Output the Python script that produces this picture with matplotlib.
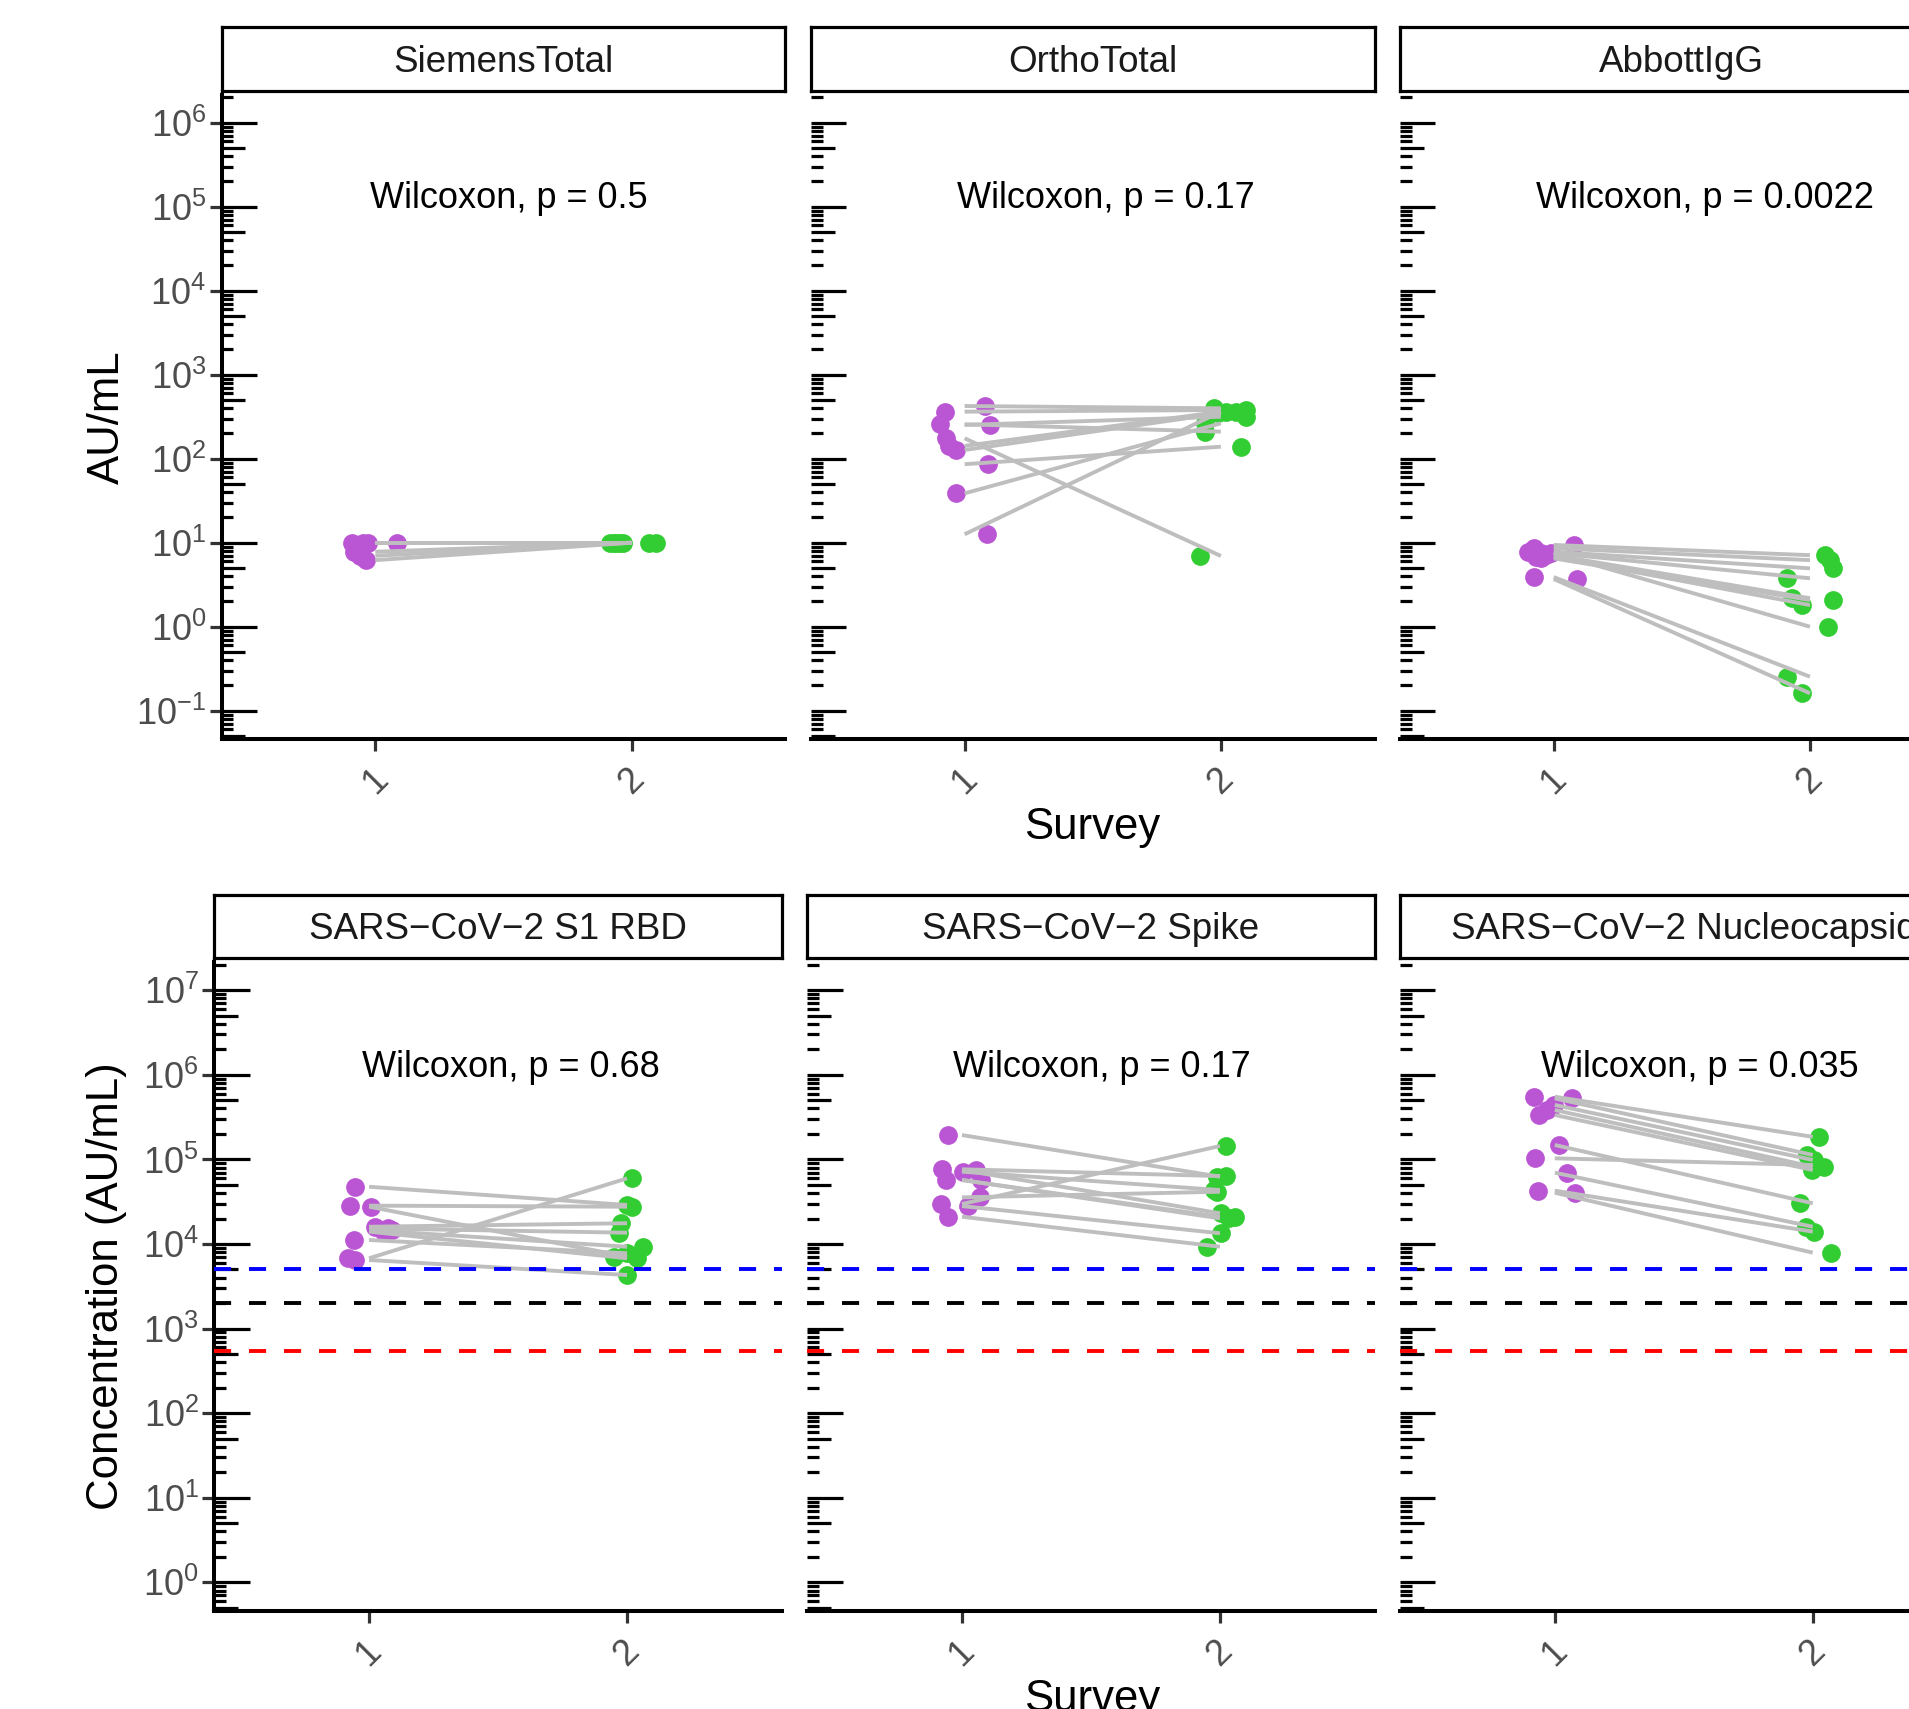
import matplotlib
matplotlib.use("Agg")
import matplotlib.pyplot as plt
import numpy as np

plt.rcParams["font.family"] = ["Liberation Sans", "DejaVu Sans"]
plt.rcParams["mathtext.fontset"] = "custom"
plt.rcParams["mathtext.rm"] = "Liberation Sans"
plt.rcParams["mathtext.it"] = "Liberation Sans:italic"
plt.rcParams["mathtext.bf"] = "Liberation Sans:bold"

# ---- data (paired survey 1 / survey 2 values) ----
panel_names = ["SiemensTotal", "OrthoTotal", "AbbottIgG",
               "SARS\u2212CoV\u22122 S1 RBD", "SARS\u2212CoV\u22122 Spike",
               "SARS\u2212CoV\u22122 Nucleocapsid"]
p_values = ["0.5", "0.17", "0.0022", "0.68", "0.17", "0.035"]

siemens_s1 = [10, 10, 10, 10, 7.8, 7.0, 6.2]
siemens_s2 = [10, 10, 10, 10, 10, 10, 10]
siemens_j1 = [-0.09, -0.05, -0.03, 0.086, -0.083, -0.06, -0.037]
siemens_j2 = [-0.083, -0.06, -0.035, 0.07, 0.095, -0.07, -0.045]

ortho_s1 = [424, 363, 257, 252, 175, 142, 127, 86, 38.7, 12.6]
ortho_s2 = [398, 380, 210, 316, 6.95, 363, 347, 139, 264, 363]
ortho_j1 = [0.08, -0.075, -0.095, 0.10, -0.072, -0.062, -0.032, 0.093, -0.032, 0.087]
ortho_j2 = [-0.025, 0.10, -0.063, 0.10, -0.083, 0.06, -0.01, 0.08, -0.06, 0.02]

abbott_s1 = [9.4, 8.6, 7.8, 7.5, 7.1, 6.8, 6.5, 7.5, 3.9, 3.7]
abbott_s2 = [7.1, 6.2, 4.95, 3.77, 2.18, 1.81, 2.08, 1.0, 0.254, 0.161]
abbott_j1 = [0.079, -0.077, -0.10, -0.05, -0.03, -0.07, -0.05, -0.012, -0.077, 0.09]
abbott_j2 = [0.06, 0.08, 0.09, -0.09, -0.07, -0.03, 0.09, 0.07, -0.09, -0.03]

rbd_s1 = [47500, 28400, 27600, 16000, 15300, 14600, 14000, 11150, 6780, 6470]
rbd_s2 = [28900, 27600, 7080, 17600, 13600, 9290, 6780, 7760, 59700, 4300]
rbd_j1 = [-0.054, -0.073, 0.008, 0.024, 0.075, 0.088, 0.056, -0.06, -0.08, -0.054]
rbd_j2 = [0.0, 0.02, -0.05, -0.025, -0.032, 0.06, 0.04, 0.0, 0.02, 0.0]

spike_s1 = [194000, 76400, 71600, 75000, 57100, 57100, 35600, 29700, 28100, 21000]
spike_s2 = [62500, 63600, 43400, 23100, 21000, 20100, 41500, 144000, 13400, 9290]
spike_j1 = [-0.054, -0.076, 0.004, 0.056, -0.06, 0.075, 0.068, -0.08, 0.023, -0.056]
spike_j2 = [-0.01, 0.023, -0.022, 0.003, 0.06, 0.036, -0.01, 0.023, 0.003, -0.05]

nucleo_s1 = [551000, 527000, 440000, 384000, 335000, 148000, 103000, 69700, 42700, 40400]
nucleo_s2 = [185000, 113000, 98500, 82000, 75000, 30300, 85900, 16000, 14000, 7900]
nucleo_j1 = [-0.081, 0.067, -0.004, -0.03, -0.062, 0.016, -0.075, 0.048, -0.066, 0.08]
nucleo_j2 = [0.023, -0.022, 0.004, 0.043, -0.003, -0.048, 0.01, -0.028, 0.004, 0.069]

thresholds = [5000, 2000, 550]
threshold_colors = ["#0000FF", "#000000", "#FF0000"]

panel_data = [
    (siemens_s1, siemens_s2, siemens_j1, siemens_j2),
    (ortho_s1, ortho_s2, ortho_j1, ortho_j2),
    (abbott_s1, abbott_s2, abbott_j1, abbott_j2),
    (rbd_s1, rbd_s2, rbd_j1, rbd_j2),
    (spike_s1, spike_s2, spike_j1, spike_j2),
    (nucleo_s1, nucleo_s2, nucleo_j1, nucleo_j2),
]

PURPLE = "#BA55D3"
GREEN = "#32CD32"
GREY = "#BEBEBE"

W, H = 1909, 1709
fig = plt.figure(figsize=(W / 100, H / 100), dpi=100)


def px_axes(left, top, width, height):
    return fig.add_axes([left / W, 1 - (top + height) / H, width / W, height / H])


rows = [
    dict(ax_top=95, ax_bot=739, strip_top=27, strip_bot=91.3,
         lefts=[221.6, 810.9, 1400], width=563.7,
         ylog=(-1.337, 6.33), decades=(-2, 6), majors=range(-1, 7),
         label_ylog=5.10, label_x=[0.98, 0.972, 0.93],
         ylabel="AU/mL", xlabel_y=828, dashed=False),
    dict(ax_top=961.8, ax_bot=1610.8, strip_top=895, strip_bot=958.2,
         lefts=[214.3, 807.2, 1400], width=567.5,
         ylog=(-0.336, 7.336), decades=(-1, 7), majors=range(0, 8),
         label_ylog=6.085, label_x=[0.972, 0.965, 0.948],
         ylabel="Concentration (AU/mL)", xlabel_y=1700, dashed=True),
]


def draw_logticks(ax, decades, width_px):
    # annotation_logticks style: long at 10^k, mid at 5*10^k, short elsewhere
    for k in range(decades[0], decades[1] + 1):
        for m in range(1, 10):
            v = m * 10.0 ** k
            length = 35.4 if m == 1 else (23.6 if m == 5 else 11.8)
            ax.hlines(v, 0, length / width_px, transform=ax.get_yaxis_transform(),
                      color="black", lw=2.3, zorder=1)


for r, row in enumerate(rows):
    height = row["ax_bot"] - row["ax_top"]
    for c in range(3):
        idx = r * 3 + c
        s1, s2, j1, j2 = panel_data[idx]
        left = row["lefts"][c]
        ax = px_axes(left, row["ax_top"], row["width"], height)

        for a, b in zip(s1, s2):
            ax.plot([1, 2], [a, b], color=GREY, lw=2.8, zorder=3,
                    solid_capstyle="butt")
        ax.plot(1 + np.array(j1), s1, "o", color=PURPLE, ms=13.5, mec="none", zorder=2)
        ax.plot(2 + np.array(j2), s2, "o", color=GREEN, ms=13.5, mec="none", zorder=2)

        if row["dashed"]:
            for t, col in zip(thresholds, threshold_colors):
                ax.axhline(t, color=col, lw=2.8, ls=(0, (4.4, 4.6)), zorder=4)

        draw_logticks(ax, row["decades"], row["width"])

        ax.text(row["label_x"][c], 10 ** row["label_ylog"],
                "Wilcoxon, p = " + p_values[idx],
                ha="left", va="center", fontsize=26, color="black")

        ax.set_yscale("log")
        ax.set_ylim(10 ** row["ylog"][0], 10 ** row["ylog"][1])
        ax.set_xlim(0.4, 2.6)
        ax.set_xticks([1, 2])
        ax.set_xticklabels(["1", "2"], rotation=45, ha="center", va="top")
        ax.tick_params(axis="x", direction="out", length=8.6, width=2.3,
                       color="#333333", labelsize=26, labelcolor="#4D4D4D", pad=8)
        ax.yaxis.set_minor_locator(matplotlib.ticker.NullLocator())

        for side in ["top", "right"]:
            ax.spines[side].set_visible(False)
        ax.spines["bottom"].set_linewidth(2.9)
        ax.spines["bottom"].set_color("black")

        if c == 0:
            majors = list(row["majors"])
            ax.set_yticks([10.0 ** k for k in majors])
            ax.set_yticklabels([r"$\mathregular{10^{%d}}$" % k for k in majors])
            ax.tick_params(axis="y", direction="out", length=8.6, width=2.3,
                           color="#333333", labelsize=26, labelcolor="#4D4D4D", pad=2.5)
            ax.spines["left"].set_linewidth(2.9)
            ax.spines["left"].set_color("black")
        else:
            ax.set_yticks([])
            ax.spines["left"].set_visible(False)

        # facet strip
        sax = px_axes(left, row["strip_top"], row["width"],
                      row["strip_bot"] - row["strip_top"])
        sax.set_xticks([])
        sax.set_yticks([])
        for sp in sax.spines.values():
            sp.set_linewidth(2.3)
            sp.set_color("black")
        sax.text(0.5, 0.45, panel_names[idx], transform=sax.transAxes,
                 ha="center", va="center", fontsize=26.5, color="#1A1A1A")

    fig.text(107 / W, 1 - (row["ax_top"] + height / 2) / H, row["ylabel"],
             rotation=90, ha="center", va="center", fontsize=31.5)
    fig.text(1092 / W, 1 - row["xlabel_y"] / H, "Survey",
             ha="center", va="center", fontsize=31.5)

fig.savefig("out.png", dpi=100)
